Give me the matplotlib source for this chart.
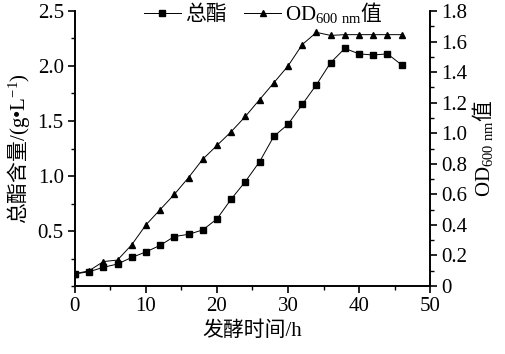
import matplotlib
matplotlib.use("Agg")
import matplotlib.pyplot as plt
from matplotlib.ticker import MultipleLocator

plt.rcParams['font.family'] = ['Liberation Serif', 'Noto Sans CJK SC']
plt.rcParams['mathtext.fontset'] = 'custom'
plt.rcParams['mathtext.rm'] = 'Liberation Serif'
plt.rcParams['mathtext.it'] = 'Liberation Serif'
plt.rcParams['mathtext.sf'] = 'Noto Sans CJK SC'

# data
time_h = [0, 2, 4, 6, 8, 10, 12, 14, 16, 18, 20, 22, 24, 26, 28, 30, 32, 34, 36, 38, 40, 42, 44, 46]
ester = [0.11, 0.13, 0.17, 0.20, 0.26, 0.31, 0.37, 0.45, 0.47, 0.51, 0.61, 0.79, 0.95, 1.13,
         1.36, 1.47, 1.65, 1.83, 2.03, 2.16, 2.11, 2.10, 2.11, 2.01]
od600 = [0.08, 0.10, 0.16, 0.17, 0.27, 0.40, 0.50, 0.60, 0.71, 0.83, 0.92, 1.01, 1.11, 1.22,
         1.33, 1.44, 1.58, 1.66, 1.64, 1.645, 1.645, 1.645, 1.645, 1.645]

od_label = r'$\mathrm{OD}_{600\ \mathrm{nm}}\mathsf{值}$'

fig = plt.figure(figsize=(5.06, 3.54), dpi=100)
ax = fig.add_axes([0.148, 0.192, 0.702, 0.777])
ax2 = ax.twinx()

l1, = ax.plot(time_h, ester, color='black', lw=0.7, marker='s', ms=4.5, label='总酯')
l2, = ax2.plot(time_h, od600, color='black', lw=0.7, marker='^', ms=5, label=od_label)

ax.set_xlim(0, 50)
ax.set_ylim(0, 2.5)
ax2.set_ylim(0, 1.8)
ax.set_xticks([0, 10, 20, 30, 40, 50])
ax.xaxis.set_minor_locator(MultipleLocator(5))
ax.set_yticks([0.5, 1.0, 1.5, 2.0, 2.5])
ax.set_yticklabels(['0.5', '1.0', '1.5', '2.0', '2.5'])
ax.yaxis.set_minor_locator(MultipleLocator(0.25))
ax2.set_yticks([0, 0.2, 0.4, 0.6, 0.8, 1.0, 1.2, 1.4, 1.6, 1.8])
ax2.set_yticklabels(['0', '0.2', '0.4', '0.6', '0.8', '1.0', '1.2', '1.4', '1.6', '1.8'])
ax2.yaxis.set_minor_locator(MultipleLocator(0.1))

for a in (ax, ax2):
    a.spines['top'].set_visible(False)
    for s in a.spines.values():
        s.set_linewidth(1.2)
    a.tick_params(which='major', direction='out', length=5, width=1.2, labelsize=15, pad=3)
    a.tick_params(which='minor', direction='out', length=3, width=1.0)

ax.set_xlabel('发酵时间/h', fontsize=15, labelpad=4)
ax.set_ylabel(r'$\mathsf{总酯含量}/(\mathrm{g}\mathrm{•}\mathrm{L}^{-1})$', fontsize=15, labelpad=4)
ax2.set_ylabel(od_label, fontsize=15, labelpad=2)

fig.legend(handles=[l1, l2], loc='center', bbox_to_anchor=(0.52, 0.965), ncol=2,
           frameon=False, fontsize=15, handlelength=1.8, handletextpad=0.2, columnspacing=0.8,
           borderpad=0)

fig.savefig('out.png', dpi=100)
